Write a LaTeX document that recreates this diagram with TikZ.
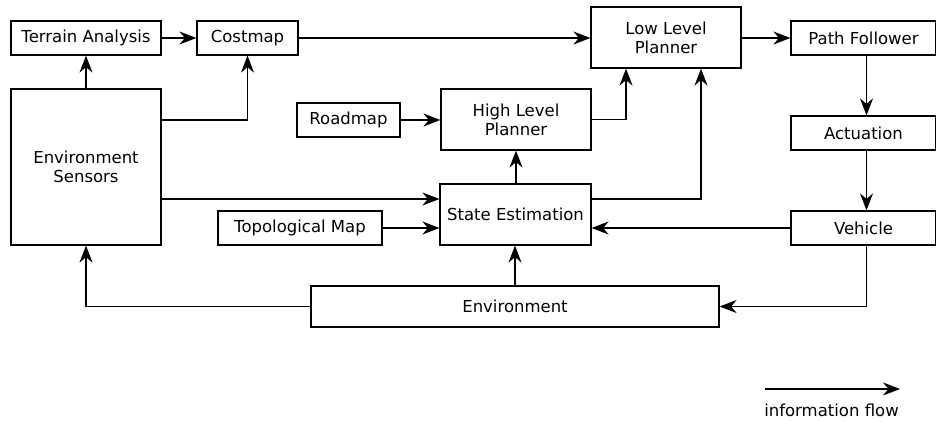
\documentclass[tikz,border=0pt]{standalone}
\usepackage{fontspec}
\setmainfont{DejaVu Sans}
\usetikzlibrary{arrows.meta}
\begin{document}
\begin{tikzpicture}[x=1pt,y=-1pt,
  every node/.style={font=\fontsize{16.5}{19}\selectfont},
  block/.style={draw, line width=1.2pt, inner sep=0pt, align=center},
  flow/.style={draw, line width=1.2pt, -{Stealth[length=17pt,width=13pt,inset=5.5pt]}}]
\useasboundingbox (0,0) rectangle (936,422);

% blocks
\node[block, minimum width=150, minimum height=34] (ta)  at (86,38)      {Terrain Analysis};
\node[block, minimum width=101, minimum height=34] (cm)  at (247.5,38)   {Costmap};
\node[block, minimum width=150, minimum height=156] (es) at (86,167)     {Environment\\Sensors};
\node[block, minimum width=150, minimum height=61] (llp) at (666,37.5)   {Low Level\\Planner};
\node[block, minimum width=145, minimum height=34] (pf)  at (863.5,38)   {Path Follower};
\node[block, minimum width=145, minimum height=34] (act) at (863.5,133)  {Actuation};
\node[block, minimum width=145, minimum height=34] (veh) at (863.5,228)  {Vehicle};
\node[block, minimum width=103, minimum height=34] (rm)  at (348.5,120)  {Roadmap};
\node[block, minimum width=150, minimum height=61] (hlp) at (516,119.5)  {High Level\\Planner};
\node[block, minimum width=151, minimum height=61] (se)  at (515.5,214.5) {State Estimation};
\node[block, minimum width=164, minimum height=34] (tm)  at (300,228)    {Topological Map};
\node[block, minimum width=408, minimum height=41] (env) at (515,306.5)  {Environment};

% connectors
\draw[flow] (es.north) -- (ta.south);
\draw[flow] (ta.east) -- (cm.west);
\draw[flow] (es.east |- rm.center) -| (cm.south);
\draw[flow] (cm.east) -- (cm.east -| llp.west);
\draw[flow] (llp.east |- pf.west) -- (pf.west);
\draw[flow] (rm.east) -- (rm.east -| hlp.west);
\draw[flow] (hlp.east) -| ([xshift=-40]llp.south);
\draw[flow] (se.north -| hlp.south) -- (hlp.south);
\draw[flow] ([yshift=15.5]se.east) -| ([xshift=35]llp.south);
\draw[flow] (es.east |- 0,199) -- (se.west |- 0,199);
\draw[flow] (tm.east) -- (tm.east -| se.west);
\draw[flow] (veh.west) -- (veh.west -| se.east);
\draw[flow] ([xshift=3]pf.south) -- ([xshift=3]act.north);
\draw[flow] ([xshift=3]act.south) -- ([xshift=3]veh.north);
\draw[flow] ([xshift=3]veh.south) |- (env.east);
\draw[flow] (env.west) -| (es.south);
\draw[flow] (env.north) -- (env.north |- se.south);

% legend
\coordinate (lga) at (765,389);
\coordinate (lgb) at (900,389);
\draw[flow] (lga) -- (lgb);
\node (lgt) at (831.5,410) {information flow};
\end{tikzpicture}
\end{document}
